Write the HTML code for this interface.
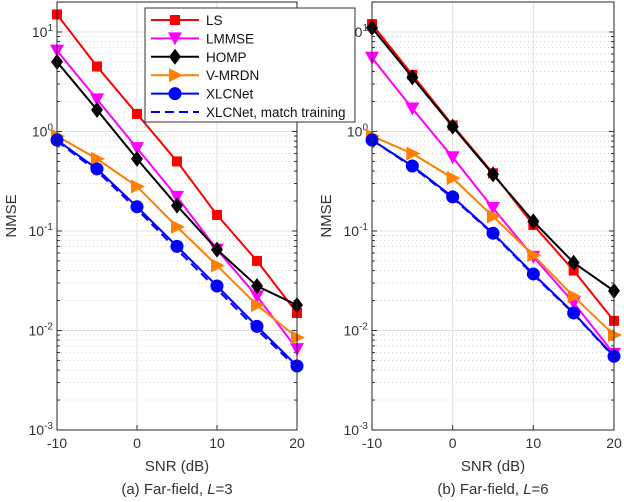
<!DOCTYPE html>
<html><head><meta charset="utf-8"><style>
body{margin:0;background:#fff}
svg{display:block;font-family:"Liberation Sans",sans-serif}
</style></head><body>
<svg id="c" width="624" height="502" viewBox="0 0 624 502"></svg>
<script>
const snr=[-10,-5,0,5,10,15,20];
const xTicks=[-10,0,10,20];
const seriesNames=["LS","LMMSE","HOMP","V-MRDN","XLCNet","XLCNet, match training"];
const a_LS=[15,4.5,1.5,0.5,0.145,0.05,0.015];
const a_LMMSE=[6.5,2.1,0.68,0.22,0.065,0.022,0.0065];
const a_HOMP=[5,1.65,0.53,0.18,0.065,0.028,0.018];
const a_VMRDN=[0.9,0.53,0.28,0.11,0.045,0.018,0.0085];
const a_XLC=[0.82,0.42,0.175,0.07,0.028,0.011,0.0044];
const a_XLCm=[0.8,0.4,0.165,0.065,0.026,0.0102,0.0042];
const b_LS=[12,3.7,1.15,0.38,0.115,0.04,0.0125];
const b_LMMSE=[5.5,1.7,0.55,0.17,0.055,0.019,0.0058];
const b_HOMP=[11,3.5,1.12,0.37,0.125,0.048,0.025];
const b_VMRDN=[0.9,0.6,0.34,0.14,0.057,0.022,0.009];
const b_XLC=[0.82,0.45,0.22,0.095,0.037,0.015,0.0055];
const b_XLCm=[0.82,0.44,0.215,0.093,0.036,0.0148,0.0054];
const yExp=[1,0,-1,-2,-3];

const NS="http://www.w3.org/2000/svg";
const svg=document.getElementById('c');
function el(t,a,p){const e=document.createElementNS(NS,t);for(const k in a)e.setAttribute(k,a[k]);(p||svg).appendChild(e);return e;}
const styles=[
 {c:"#ff0000",m:"sq"},{c:"#ff00ff",m:"tv"},{c:"#000000",m:"di"},
 {c:"#ff8000",m:"tr"},{c:"#0000ff",m:"ci"},{c:"#0000ff",m:"none",dash:"9,5"}];
function marker(g,m,x,y,c){
 let e;
 if(m=="sq")e=el('rect',{x:x-5,y:y-5,width:10,height:10,fill:c},g);
 else if(m=="tv")e=el('polygon',{points:`${x-7},${y-6} ${x+7},${y-6} ${x},${y+7}`,fill:c},g);
 else if(m=="di")e=el('polygon',{points:`${x},${y-8} ${x+6},${y} ${x},${y+8} ${x-6},${y}`,fill:c},g);
 else if(m=="tr")e=el('polygon',{points:`${x-6},${y-7} ${x+8},${y} ${x-6},${y+7}`,fill:c},g);
 else if(m=="ci")e=el('circle',{cx:x,cy:y,r:6.5,fill:c},g);
 if(e){}
}
function panel(L,R,T,B,data,id,caption,nmseX){
 const g=el('g',{});
 
 const X=v=>L+(v+10)/30*(R-L);
 const lt=Math.log10(20),lb=-3;
 const Y=v=>T+(lt-Math.log10(v))/(lt-lb)*(B-T);
 // minor grid
 for(let e=-3;e<=1;e++)for(let k=2;k<=9;k++){const v=k*Math.pow(10,e);if(v>20)continue;const y=Y(v);
  el('line',{x1:L,x2:R,y1:y,y2:y,stroke:"#d0d0d0","stroke-dasharray":"1,3","stroke-width":1},g);
  el('line',{x1:R-3,x2:R,y1:y,y2:y,stroke:"#333"},g);el('line',{x1:L,x2:L+3,y1:y,y2:y,stroke:"#333"},g);}
 yExp.forEach(e=>{const y=Y(Math.pow(10,e));
  el('line',{x1:L,x2:R,y1:y,y2:y,stroke:"#e2e2e2"},g);
  el('line',{x1:L,x2:L+5,y1:y,y2:y,stroke:"#333"},g);el('line',{x1:R-5,x2:R,y1:y,y2:y,stroke:"#333"},g);
  const t=el('text',{x:L-4,y:y+5,"text-anchor":"end","font-size":14,fill:"#333"},g);
  
  t.innerHTML=`10<tspan dy="-6" font-size="10">${e}</tspan>`;});
 xTicks.forEach(v=>{const x=X(v);
  el('line',{x1:x,x2:x,y1:T,y2:B,stroke:"#e2e2e2"},g);
  el('line',{x1:x,x2:x,y1:B,y2:B-5,stroke:"#333"},g);
  const t=el('text',{x:x,y:B+18,"text-anchor":"middle","font-size":14,fill:"#333"},g);
  t.textContent=v;});
 data.forEach((d,i)=>{const s=styles[i];
  const p=el('polyline',{points:snr.map((v,j)=>X(v)+","+Y(d[j])).join(" "),fill:"none",stroke:s.c,"stroke-width":2},g);
  if(s.dash)p.setAttribute('stroke-dasharray',s.dash);
  
  snr.forEach((v,j)=>marker(g,s.m,X(v),Y(d[j]),s.c));});
 const f=el('rect',{x:L,y:T,width:R-L,height:B-T,fill:"none",stroke:"#262626","stroke-width":1},g);
 
 let t=el('text',{x:(L+R)/2,y:B+41,"text-anchor":"middle","font-size":15,fill:"#333"},g);
 t.textContent="SNR (dB)";
 t=el('text',{x:nmseX,y:(T+B)/2,"text-anchor":"middle","font-size":15,fill:"#333",transform:`rotate(-90 ${nmseX} ${(T+B)/2})`},g);
 t.textContent="NMSE";
 t=el('text',{x:(L+R)/2,y:B+64,"text-anchor":"middle","font-size":15,fill:"#333"},g);
 t.innerHTML=caption;
}
panel(57,297,2,430,[a_LS,a_LMMSE,a_HOMP,a_VMRDN,a_XLC,a_XLCm],"a","(a) Far-field, <tspan font-style='italic'>L</tspan>=3",16);
panel(372,614,2,430,[b_LS,b_LMMSE,b_HOMP,b_VMRDN,b_XLC,b_XLCm],"b","(b) Far-field, <tspan font-style='italic'>L</tspan>=6",331);
// legend
const lg=el('g',{});

el('rect',{x:145,y:8,width:210,height:114,fill:"#fff",stroke:"#333"},lg);
seriesNames.forEach((n,i)=>{const y=20+i*18.4,s=styles[i];
 const e=el('g',{},lg);
 const l=el('line',{x1:151,x2:199,y1:y,y2:y,stroke:s.c,"stroke-width":2},e);
 if(s.dash)l.setAttribute('stroke-dasharray',s.dash);
 marker(e,s.m,175,y,s.c);
 const t=el('text',{x:206,y:y+5,"font-size":13.5,fill:"#111"},e);t.textContent=n;});
</script>
</body></html>
